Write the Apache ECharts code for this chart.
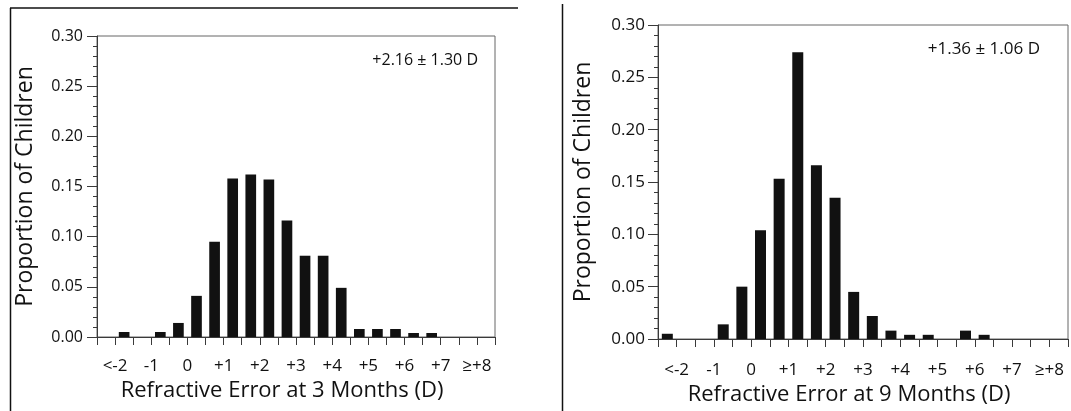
<!DOCTYPE html>
<html>
<head>
<meta charset="utf-8">
<script src="https://cdn.jsdelivr.net/npm/echarts@6/dist/echarts.min.js"></script>
<style>
  html, body { margin: 0; padding: 0; background: #fff; }
  #chart { width: 1071px; height: 411px; }
</style>
</head>
<body>
<div id="chart"></div>
<script>
// ---- data ----
const binCenters = ['-2.25', '-1.75', '-1.25', '-0.75', '-0.25', '0.25', '0.75', '1.25', '1.75', '2.25', '2.75',
                    '3.25', '3.75', '4.25', '4.75', '5.25', '5.75', '6.25', '6.75', '7.25', '7.75', '8.25'];
const values3Months = [0, 0.005, 0, 0.005, 0.014, 0.041, 0.095, 0.158, 0.162, 0.157, 0.116,
                       0.081, 0.081, 0.049, 0.008, 0.008, 0.008, 0.004, 0.004, 0, 0, 0];
const values9Months = [0.005, 0, 0, 0.014, 0.050, 0.104, 0.153, 0.274, 0.166, 0.135, 0.045,
                       0.022, 0.008, 0.004, 0.004, 0, 0.008, 0.004, 0, 0, 0, 0];
const tickValues = [-2, -1, 0, 1, 2, 3, 4, 5, 6, 7, 8];
const tickLabels = ['<-2', '-1', '0', '+1', '+2', '+3', '+4', '+5', '+6', '+7', '\u2265+8'];
const xTitles = ['Refractive Error at 3 Months (D)', 'Refractive Error at 9 Months (D)'];
const yTitle = 'Proportion of Children';
const statTexts = ['+2.16 \u00b1 1.30 D', '+1.36 \u00b1 1.06 D'];

// ---- chart ----
const FONT = "'Open Sans', 'Liberation Sans', sans-serif";
const AXIS_COLOR = '#3a3a3a';
const TEXT_COLOR = '#111';

const panels = [
  { grid: { left: 97, right: 576, top: 36, bottom: 74 }, values: values3Months,
    labelMargin: 21, nameGap: 43, yNameGap: 60, yLabelMargin: 14, yLabelSize: 16 },
  { grid: { left: 658, right: 1, top: 25, bottom: 71 }, values: values9Months,
    labelMargin: 23, nameGap: 45, yNameGap: 63, yLabelMargin: 13, yLabelSize: 17 }
];

const option = {
  animation: false,
  backgroundColor: '#fff',
  textStyle: { fontFamily: FONT, color: TEXT_COLOR },
  grid: panels.map(p => Object.assign({ show: true, borderColor: '#666', borderWidth: 1, containLabel: false }, p.grid)),
  xAxis: [],
  yAxis: [],
  series: [],
  graphic: []
};

panels.forEach((p, i) => {
  // category axis carrying the bars (hidden)
  option.xAxis.push({
    type: 'category', gridIndex: i, data: binCenters, show: false, boundaryGap: true
  });
  // value axis for ticks at bin edges and labels
  option.xAxis.push({
    type: 'value', gridIndex: i, min: -2.5, max: 8.5, interval: 0.5, position: 'bottom',
    axisLine: { show: true, onZero: false, lineStyle: { color: AXIS_COLOR, width: 1 } },
    axisTick: { show: true, length: 8, lineStyle: { color: AXIS_COLOR, width: 1 } },
    splitLine: { show: false },
    axisLabel: {
      show: true, margin: p.labelMargin, fontSize: 17, fontFamily: FONT, color: TEXT_COLOR,
      showMinLabel: true, showMaxLabel: true,
      formatter: v => {
        const idx = tickValues.indexOf(Math.round(v * 100) / 100);
        return idx >= 0 ? tickLabels[idx] : '';
      }
    },
    name: xTitles[i], nameLocation: 'middle', nameGap: p.nameGap,
    nameTextStyle: { fontSize: 22, fontFamily: FONT, color: TEXT_COLOR, padding: [0, 28, 0, 0] }
  });
  option.yAxis.push({
    type: 'value', gridIndex: i, min: 0, max: 0.30, interval: 0.05,
    axisLine: { show: true, onZero: false, lineStyle: { color: AXIS_COLOR, width: 1 } },
    axisTick: { show: true, length: 10, lineStyle: { color: AXIS_COLOR, width: 1 } },
    minorTick: { show: true, splitNumber: 5, length: 4, lineStyle: { color: AXIS_COLOR, width: 1 } },
    splitLine: { show: false },
    axisLabel: { margin: p.yLabelMargin, fontSize: p.yLabelSize, fontFamily: FONT, color: TEXT_COLOR,
                 formatter: v => v.toFixed(2) },
    name: yTitle, nameLocation: 'middle', nameGap: p.yNameGap,
    nameTextStyle: { fontSize: 23, fontFamily: FONT, color: TEXT_COLOR }
  });
  option.series.push({
    type: 'bar', xAxisIndex: i * 2, yAxisIndex: i, data: p.values,
    barWidth: '59%', itemStyle: { color: '#111' }, silent: true
  });
});

// annotations and frame lines of the scanned figure
option.graphic = [
  { type: 'text', right: 1071 - 478, top: 52, style: { text: statTexts[0], font: '16px ' + FONT, fill: TEXT_COLOR } },
  { type: 'text', right: 1071 - 1040, top: 41, style: { text: statTexts[1], font: '17px ' + FONT, fill: TEXT_COLOR } },
  { type: 'line', shape: { x1: 10, y1: 8, x2: 518, y2: 8 }, style: { stroke: '#111', lineWidth: 1.5 } },
  { type: 'line', shape: { x1: 10.5, y1: 8, x2: 10.5, y2: 411 }, style: { stroke: '#111', lineWidth: 1.5 } },
  { type: 'line', shape: { x1: 562.5, y1: 4, x2: 562.5, y2: 411 }, style: { stroke: '#111', lineWidth: 1.5 } }
];

const chart = echarts.init(document.getElementById('chart'), null, { renderer: 'canvas' });
chart.setOption(option);
</script>
</body>
</html>
